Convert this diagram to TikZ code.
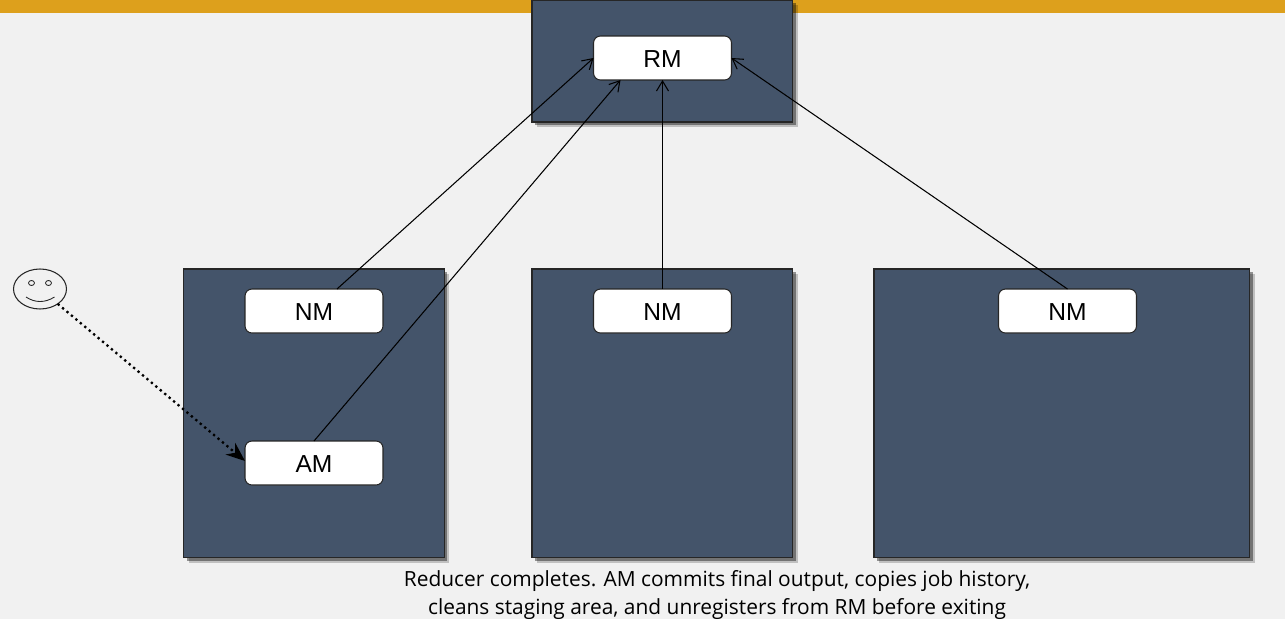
\documentclass[tikz,border=0pt]{standalone}
\usepackage{fontspec}
\setmainfont{Liberation Sans}
\newfontfamily\capfont{Open Sans}
\usetikzlibrary{arrows.meta,positioning,shapes.geometric,shadows}
\definecolor{slatebox}{HTML}{44546A}
\definecolor{goldbar}{HTML}{DDA01C}
\definecolor{pagegrey}{HTML}{F1F1F1}

\begin{document}
\begin{tikzpicture}[
  x=0.02cm, y=-0.02cm,
  server/.style={fill=slatebox, draw=black!85, line width=0.6pt, outer sep=0pt, anchor=north west,
    drop shadow={shadow xshift=0.1cm, shadow yshift=-0.1cm, opacity=0.2, fill=black},
    drop shadow={shadow xshift=0.06cm, shadow yshift=-0.06cm, opacity=0.4, fill=black}},
  daemon/.style={fill=white, draw=black!85, line width=0.6pt, rounded corners=0.14cm, outer sep=0pt,
    minimum width=2.76cm, minimum height=0.88cm, text height=11pt, text depth=0pt,
    font=\fontsize{14}{16}\selectfont},
  link/.style={draw=black, line width=0.6pt, -{Straight Barb[length=0.2cm,width=0.24cm]}},
  caption/.style={align=center, font=\capfont\fontsize{11.9}{16.2}\selectfont}
]

% Page
\useasboundingbox (0,0) rectangle (1285,619);
\fill[pagegrey] (0,0) rectangle (1285,619);
\fill[goldbar] (0,0) rectangle (1285,13);

% Machines
\node[server, minimum width=5.22cm, minimum height=2.44cm] (rmbox) at (532,0) {};
\node[server, minimum width=5.22cm, minimum height=5.78cm] (boxa) at (183.5,269) {};
\node[server, minimum width=5.22cm, minimum height=5.78cm] (boxb) at (532,269) {};
\node[server, minimum width=7.52cm, minimum height=5.78cm] (boxc) at (874,269) {};

% Daemons
\node[daemon] (rm) at (662.5,58) {RM};
\node[daemon] (nma) at (314,311) {NM};
\node[daemon] (am) at (314,463) {AM};
\node[daemon] (nmb) at (662.5,311) {NM};
\node[daemon] (nmc) at (1067.5,311) {NM};

% Client
\node[ellipse, draw=black!85, line width=0.6pt, fill=pagegrey, minimum width=1.06cm, minimum height=0.8cm,
  inner sep=0pt, outer sep=0pt] (face) at (40,289) {};
\draw[black!85, line width=0.5pt] (31.5,283) circle (3 and 2.5);
\draw[black!85, line width=0.5pt] (48.5,283) circle (3 and 2.5);
\draw[black!85, line width=0.5pt] (26,297) .. controls (35,303) and (45,303) .. (54.5,297);

% Links
\draw[link] ([xshift=0.46cm]nma.north) -- (rm.west);
\draw[link] (am.north) -- ([xshift=-0.84cm]rm.south);
\draw[link] (nmb.north) -- (rm.south);
\draw[link] (nmc.north) -- (rm.east);
\draw[black, line width=1.3pt, dotted, -{Stealth[length=0.38cm,width=0.3cm]}] (face.-40) -- ([yshift=0.04cm]am.west);

% Caption
\node[caption] (note) at (717,595) {Reducer completes. AM commits final output, copies job history,\\cleans staging area, and unregisters from RM before exiting};

\end{tikzpicture}
\end{document}
